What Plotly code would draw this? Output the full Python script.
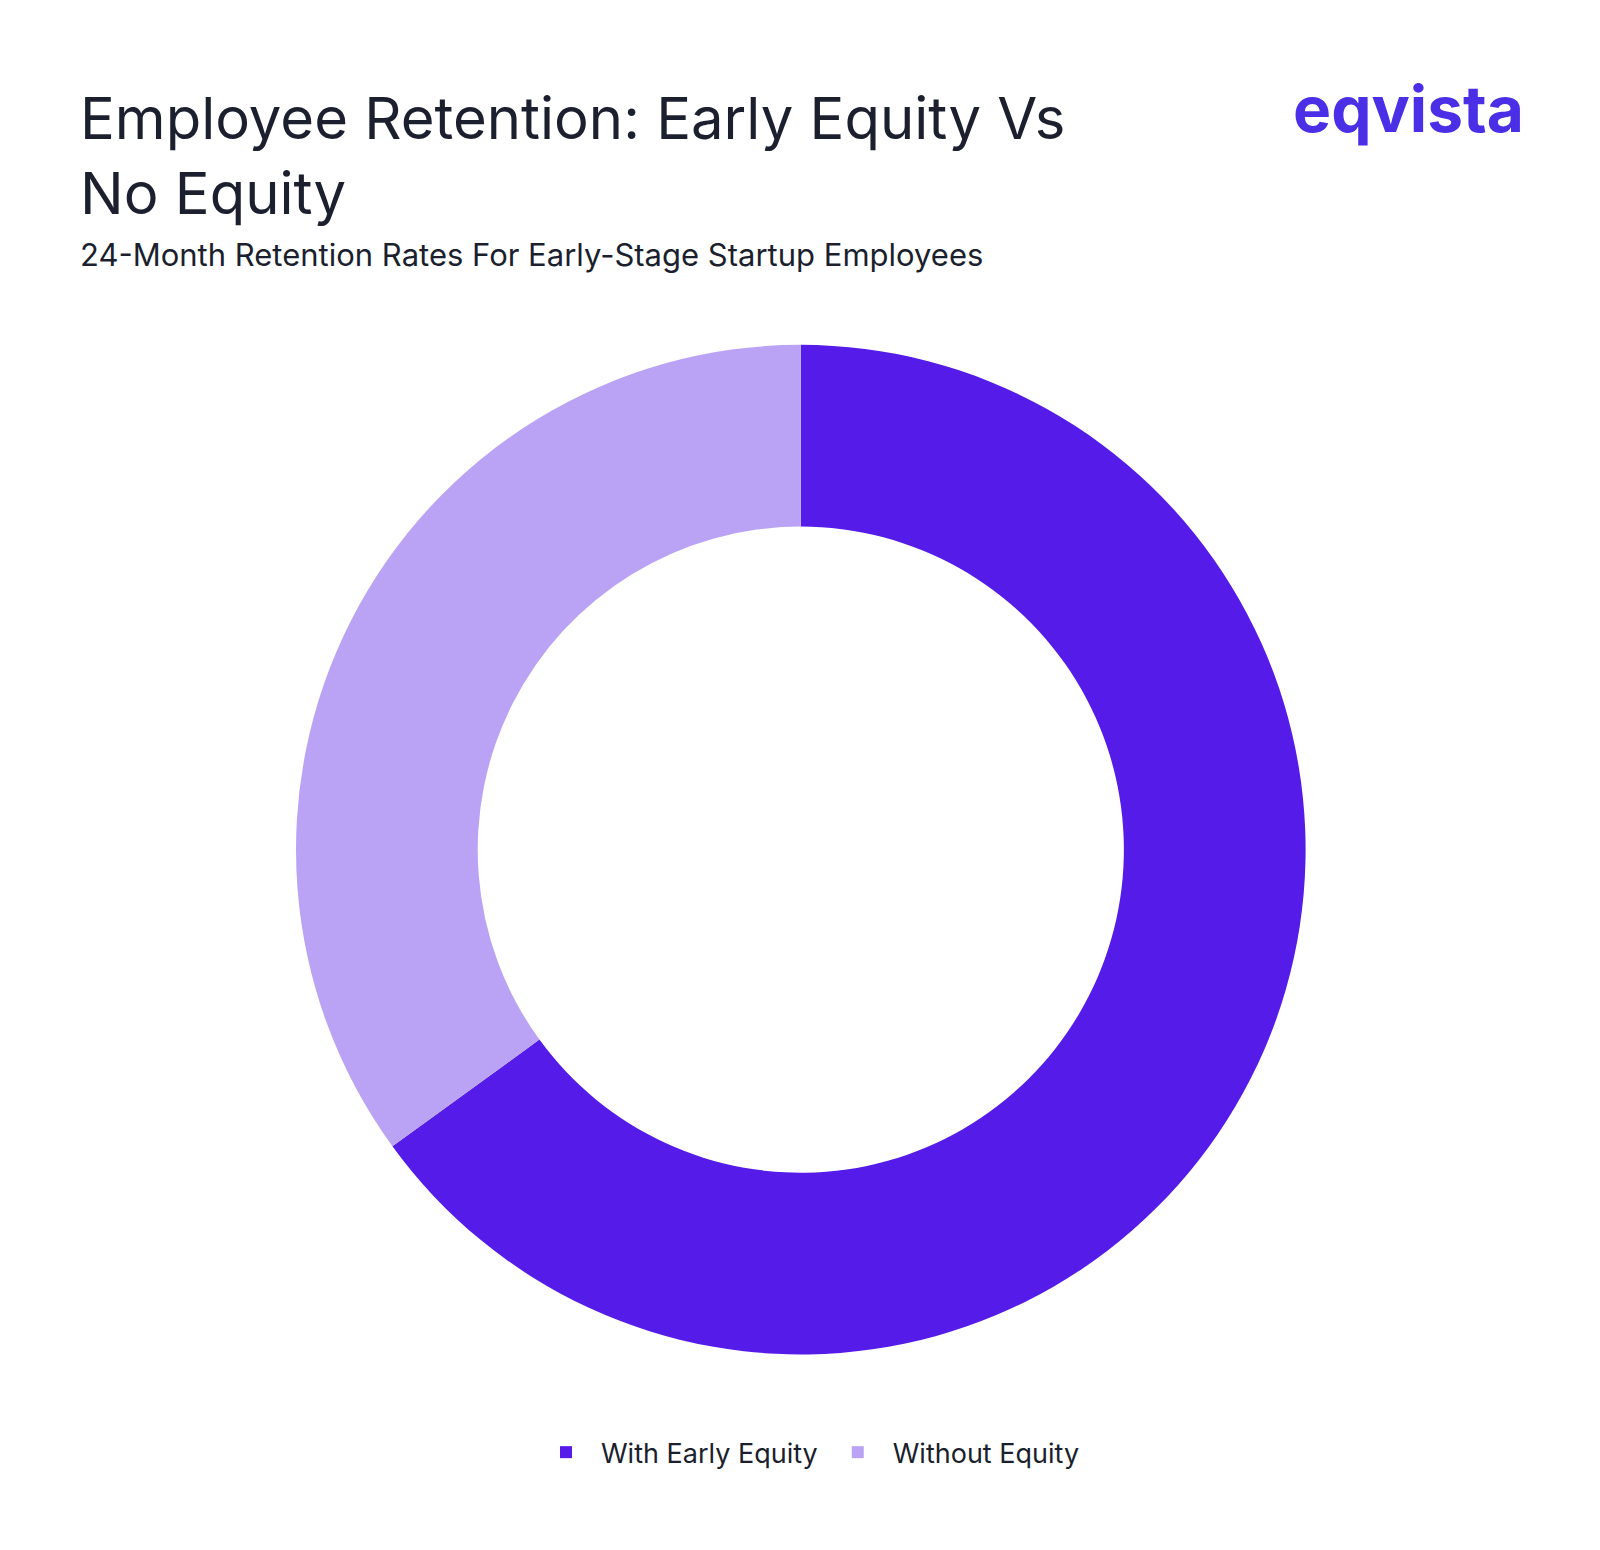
import plotly.graph_objects as go

labels = ["With Early Equity", "Without Equity"]
values = [65, 35]
colors = ["#541be9", "#baa3f5"]

fig = go.Figure()
fig.add_trace(go.Pie(
    labels=labels, values=values, hole=0.64, sort=False,
    direction="clockwise", rotation=0,
    marker=dict(colors=colors), textinfo="none",
    domain=dict(x=[0.18, 0.811], y=[0.131, 0.783]),
))

fig.update_layout(
    width=1600, height=1550,
    margin=dict(l=0, r=0, t=0, b=0),
    paper_bgcolor="white",
    font=dict(family="Inter", color="#1b1f2e"),
    showlegend=True,
    legend=dict(orientation="h", x=0.5, xanchor="center", y=0.068, yanchor="middle",
                font=dict(size=27, color="#1b1f2e"), itemwidth=60),
    annotations=[
        dict(text="Employee Retention: Early Equity Vs<br>No Equity", x=0.044, y=0.953,
             xref="paper", yref="paper", xanchor="left", yanchor="top", align="left",
             showarrow=False, font=dict(size=58, color="#1b1f2e")),
        dict(text="24-Month Retention Rates For Early-Stage Startup Employees", x=0.044, y=0.841,
             xref="paper", yref="paper", xanchor="left", yanchor="middle", align="left",
             showarrow=False, font=dict(size=31, color="#1b1f2e")),
        dict(text="<b>eqvista</b>", x=0.949, y=0.935, xref="paper", yref="paper",
             xanchor="right", yanchor="middle", showarrow=False,
             font=dict(size=64, color="#4a2fe6")),
    ],
)
fig.write_html("out.html")
